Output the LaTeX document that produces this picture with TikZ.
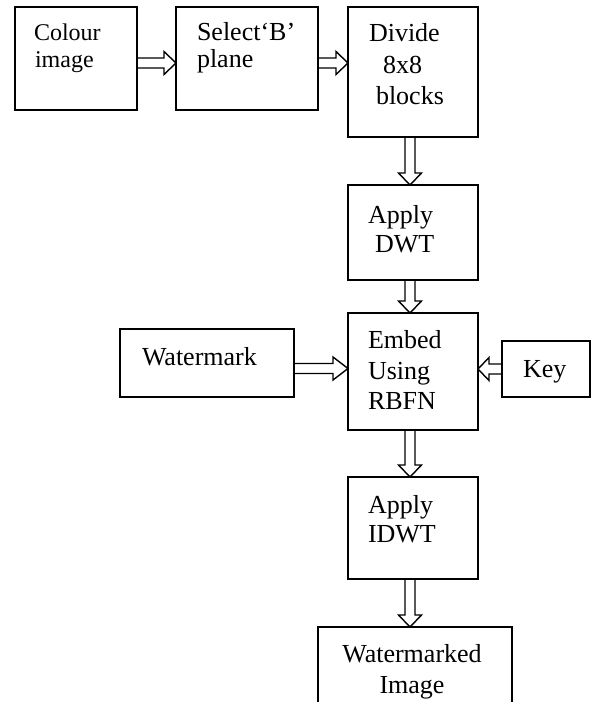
\documentclass[tikz,border=0pt]{standalone}
\usepackage{fontspec}
\setmainfont{Liberation Serif}
\usetikzlibrary{calc}
\tikzset{
  box/.style={draw, line width=1pt, inner sep=0pt, outer sep=0pt},
  txt/.style={inner sep=0pt, outer sep=0pt, anchor=base west, font=\fontsize{13}{15}\selectfont},
  txtsmall/.style={txt, font=\fontsize{12}{14}\selectfont},
  txtc/.style={txt, anchor=base},
  fatline/.style={draw, line width=0.7pt, line join=miter},
}
\newcommand\fatarrow[3][6pt]{%
  \coordinate (fS) at (#2);
  \coordinate (fE) at (#3);
  \coordinate (fB) at ($(fE)!#1!(fS)$);
  \draw[fatline] ($(fS)!2.5pt!90:(fE)$) -- ($(fB)!2.5pt!90:(fE)$) -- ($(fB)!5.75pt!90:(fE)$)
    -- (fE) -- ($(fB)!5.75pt!-90:(fE)$) -- ($(fB)!2.5pt!-90:(fE)$) -- ($(fS)!2.5pt!-90:(fE)$);
}
\begin{document}
\begin{tikzpicture}[x=0.5pt,y=-0.5pt]
\clip (0,0) rectangle (592,702);
\fill[white] (0,0) rectangle (592,702);
% boxes
\node[box, minimum width=61pt, minimum height=51.5pt] (b1) at (76,58.5) {};
\node[box, minimum width=71pt, minimum height=51.5pt] (b2) at (247,58.5) {};
\node[box, minimum width=65pt, minimum height=65pt] (b3) at (413,72) {};
\node[box, minimum width=65pt, minimum height=47.5pt] (b4) at (413,232.5) {};
\node[box, minimum width=65pt, minimum height=58.5pt] (b5) at (413,371.5) {};
\node[box, minimum width=87pt, minimum height=34pt] (wm) at (207,363) {};
\node[box, minimum width=44pt, minimum height=28pt] (key) at (546,369) {};
\node[box, minimum width=65pt, minimum height=51pt] (b6) at (413,528) {};
\node[box, minimum width=97pt, minimum height=54pt] (b7) at (415,681) {};
% texts
\node[txtsmall] (t1a) at (34,40) {Colour};
\node[txtsmall] (t1b) at (35,67) {image};
\node[txt] (t2a) at (197,40) {Select‘B’};
\node[txt] (t2b) at (197,67) {plane};
\node[txt] (t3a) at (369,41) {Divide};
\node[txt] (t3b) at (383,73) {8x8};
\node[txt] (t3c) at (376,104) {blocks};
\node[txt] (t4a) at (368,223) {Apply};
\node[txt] (t4b) at (375,252) {DWT};
\node[txt] (t5a) at (368,348) {Embed};
\node[txt] (t5b) at (368,379) {Using};
\node[txt] (t5c) at (368,409) {RBFN};
\node[txt] (twm) at (142,365) {Watermark};
\node[txt] (tkey) at (523,377) {Key};
\node[txt] (t6a) at (368,513) {Apply};
\node[txt] (t6b) at (368,542) {IDWT};
\node[txtc] (t7a) at (412,662) {Watermarked};
\node[txtc] (t7b) at (412,693) {Image};
% arrows
\fatarrow{[yshift=-2.25pt]b1.east}{[yshift=-2.25pt]b2.west}
\fatarrow{[yshift=-2.25pt]b2.east}{[yshift=4.5pt]b3.west}
\fatarrow{[xshift=-1.5pt]b3.south}{[xshift=-1.5pt]b4.north}
\fatarrow{[xshift=-1.5pt]b4.south}{[xshift=-1.5pt]b5.north}
\fatarrow[7.5pt]{[yshift=-2.75pt]wm.east}{[yshift=1.5pt]b5.west}
\fatarrow[5.5pt]{key.west}{[yshift=1.25pt]b5.east}
\fatarrow{[xshift=-1.5pt]b5.south}{[xshift=-1.5pt]b6.north}
\fatarrow{[xshift=-1.5pt]b6.south}{[xshift=-1.5pt]b6.south |- b7.north}
\end{tikzpicture}
\end{document}
